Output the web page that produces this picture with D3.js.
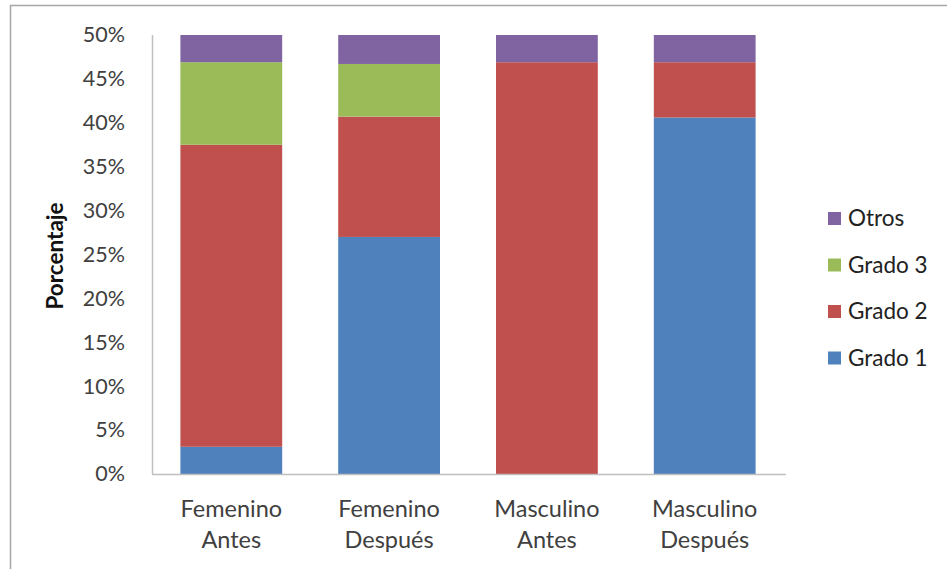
<!DOCTYPE html>
<html><head><meta charset="utf-8">
<script src="https://cdn.jsdelivr.net/npm/d3@7"></script>
<style>body{margin:0;background:#fff;} svg{display:block;}</style>
</head><body>
<svg id="chart" width="947" height="569"></svg>
<script>
const categories = [["Femenino","Antes"],["Femenino","Después"],["Masculino","Antes"],["Masculino","Después"]];
const seriesNames = ["Grado 1","Grado 2","Grado 3","Otros"];
const grado1 = [3.1, 27.0, 0, 40.6];
const grado2 = [34.4, 13.7, 46.9, 6.3];
const grado3 = [9.4, 6.0, 0, 0];
const otros  = [3.1, 3.3, 3.1, 3.1];
const colors = ["#4F81BD","#C0504D","#9BBB59","#8064A2"];
const yTicks = [0,5,10,15,20,25,30,35,40,45,50];

(function(){
const svg = d3.select("#chart");
const font = "Lato, 'Open Sans', sans-serif";
const textCol = "#404040";

svg.append("rect").attr("x",10.5).attr("y",5.5).attr("width",947).attr("height",580)
  .attr("fill","none").attr("stroke","#a6a6a6").attr("stroke-width",1.5);

const pL = 152, pR = 784, pT = 35, pB = 474;
const x = d3.scaleBand().domain(d3.range(categories.length)).range([pL,pR]).paddingInner(0.355).paddingOuter(0.18);
const y = d3.scaleLinear().domain([0,50]).range([pB,pT]);

const table = categories.map((c,i)=>({i, "Grado 1":grado1[i], "Grado 2":grado2[i], "Grado 3":grado3[i], "Otros":otros[i]}));
const stack = d3.stack().keys(seriesNames)(table);

stack.forEach((layer,k)=>{
  svg.append("g").selectAll("rect").data(layer).join("rect")
    .attr("x",d=>x(d.data.i)).attr("width",x.bandwidth())
    .attr("y",d=>y(d[1])).attr("height",d=>Math.max(0,y(d[0])-y(d[1])))
    .attr("fill",colors[k]);
});

svg.append("line").attr("x1",pL+0.5).attr("x2",pL+0.5).attr("y1",pT).attr("y2",pB)
  .attr("stroke","#bfbfbf").attr("stroke-width",1.5);
svg.append("line").attr("x1",pL).attr("x2",pR+2).attr("y1",pB+0.5).attr("y2",pB+0.5)
  .attr("stroke","#bfbfbf").attr("stroke-width",1.5);

const yAxis = d3.axisLeft(y).tickValues(yTicks).tickFormat(d=>d+"%").tickSize(0).tickPadding(27);
const ya = svg.append("g").attr("transform",`translate(${pL},0)`).call(yAxis);
ya.select(".domain").remove();
ya.selectAll("text").attr("font-family",font).attr("font-size",21.5).attr("fill",textCol);

const xl = svg.append("g").selectAll("text").data(categories).join("text")
  .attr("x",(d,i)=>x(i)+x.bandwidth()/2).attr("y",517)
  .attr("text-anchor","middle").attr("font-family",font).attr("font-size",23.5).attr("fill",textCol);
xl.append("tspan").attr("x",(d,i)=>x(i)+x.bandwidth()/2).attr("dy",0).text(d=>d[0]);
xl.append("tspan").attr("x",(d,i)=>x(i)+x.bandwidth()/2).attr("dy",31).text(d=>d[1]);

svg.append("text").attr("transform","translate(63,256) rotate(-90)")
  .attr("text-anchor","middle").attr("font-family",font).attr("font-size",22.5).attr("font-weight","bold")
  .attr("fill","#111").text("Porcentaje");

const legendOrder = [3,2,1,0];
const lg = svg.append("g").selectAll("g").data(legendOrder).join("g")
  .attr("transform",(d,j)=>`translate(828,${212+j*46.5})`);
lg.append("rect").attr("width",13).attr("height",13).attr("fill",d=>colors[d]);
lg.append("text").attr("x",20).attr("y",14).attr("font-family",font).attr("font-size",22.5)
  .attr("fill","#222").text(d=>seriesNames[d]);
})();
</script>
</body></html>
